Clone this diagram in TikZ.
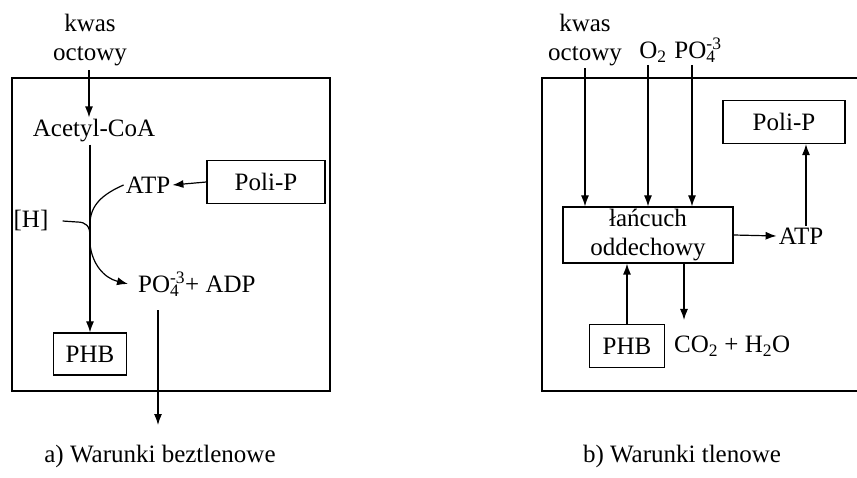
\documentclass[tikz,border=0pt]{standalone}
\usepackage{fontspec}
\setmainfont{Liberation Serif}
\usepackage{tikz}
\usetikzlibrary{arrows.meta,positioning}

\newcommand{\fosfor}{PO\rlap{\textsubscript{4}}\textsuperscript{-3}}

\begin{document}
\begin{tikzpicture}[x=1pt,y=-1pt,
    every node/.style={font=\fontsize{25}{29}\selectfont, inner sep=2pt},
    >={Latex[length=11pt,width=8pt]},
    flow/.style={->, line width=1.2pt},
    cell/.style={line width=1.9pt},
    pool/.style={draw, line width=1.2pt, inner sep=0pt}]
    \useasboundingbox (0,0) rectangle (857,478);

    % a) warunki beztlenowe
    \draw[cell] (12,78) rectangle (330,391);
    \node[align=center] (kwasA) at (90,40) {kwas\\octowy};
    \node (acetyl) at (94,131) {Acetyl-CoA};
    \node[pool, minimum width=73pt, minimum height=42pt] (phbA) at (90,354) {PHB};
    \node[pool, minimum width=118pt, minimum height=43pt] (poliA) at (266,182) {Poli-P};
    \node (atpA) at (148,185) {ATP};
    \node (hA) at (31,221) {[H]};
    \node[anchor=west] (fosA) at (136,284) {\fosfor+ ADP};
    \coordinate (outA) at (158,425);

    \draw[flow] (kwasA.south -| acetyl.north) ++(-5,2) -- ([xshift=-5pt]acetyl.north);
    \draw[flow] (acetyl.south -| phbA.north) -- (phbA.north);
    \draw[flow] (poliA.west) -- (atpA.east);
    \draw[line width=1.2pt] (atpA.west) .. controls (103,194) and (90,205) .. (90,224);
    \draw[line width=1.2pt] ([xshift=12pt]hA.east) -- (77,222) .. controls (86,222) and (90,226) .. (90,236);
    \draw[flow] (90,244) .. controls (92,264) and (104,278) .. ([xshift=-8pt]fosA.west);
    \draw[flow] ([yshift=-12pt]fosA.south -| outA) -- (outA);

    \node (capA) at (160,456) {a) Warunki beztlenowe};

    % b) warunki tlenowe
    \draw[cell] (860,78) -- (542,78) -- (542,391) -- (860,391);
    \node[align=center] (kwasB) at (585,40) {kwas\\octowy};
    \node[anchor=base] (o2) at (653,59) {O\textsubscript{2}};
    \node[anchor=base] (fosB) at (698,59) {\fosfor};
    \node[pool, minimum width=170pt, minimum height=56pt, align=center] (lanc) at (648,235)
        {łańcuch\\oddechowy};
    \node (atpB) at (801,236) {ATP};
    \node[pool, minimum width=122pt, minimum height=43pt] (poliB) at (784,122) {Poli-P};
    \node[pool, minimum width=75pt, minimum height=43pt] (phbB) at (627,346) {PHB};
    \node[anchor=west] (prod) at (672,346) {CO\textsubscript{2} + H\textsubscript{2}O};
    \coordinate (dnB) at (684,320);

    \draw[flow] (kwasB.south) -- (kwasB.south |- lanc.north);
    \draw[flow] ([xshift=-5pt]o2.south) -- ([xshift=-5pt]o2.south |- lanc.north);
    \draw[flow] ([xshift=-6pt]fosB.south) -- ([xshift=-6pt]fosB.south |- lanc.north);
    \draw[flow] (lanc.east) -- (atpB.west);
    \draw[flow] ([xshift=5pt]atpB.north) -- ([xshift=5pt]atpB.north |- poliB.south);
    \draw[flow] (phbB.north) -- (phbB.north |- lanc.south);
    \draw[flow] (lanc.south -| dnB) -- (dnB);

    \node (capB) at (682,456) {b) Warunki tlenowe};
\end{tikzpicture}
\end{document}
